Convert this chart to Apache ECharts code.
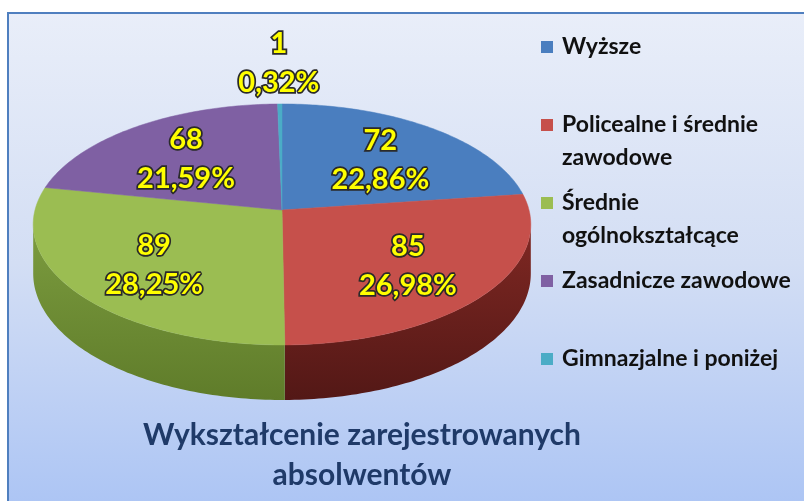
<!DOCTYPE html>
<html>
<head>
<meta charset="utf-8">
<script src="https://cdn.jsdelivr.net/npm/echarts@6/dist/echarts.min.js"></script>
<style>
  html, body { margin: 0; padding: 0; background: #fff; }
  #chart { width: 804px; height: 501px; }
</style>
</head>
<body>
<div id="chart"></div>
<script>
// data
const categories = ['Wyższe', 'Policealne i średnie\nzawodowe', 'Średnie\nogólnokształcące', 'Zasadnicze zawodowe', 'Gimnazjalne i poniżej'];
const counts = [72, 85, 89, 68, 1];
const topColors = ['#4a7ebf', '#c6504b', '#9bbd52', '#7f60a3', '#4bacc6'];
const sideColors = [['#2f5687', '#23426a'], ['#802823', '#531816'], ['#7c9c3f', '#5f7c2a'], ['#5a4278', '#443060'], ['#2f8197', '#226577']];

const total = counts.reduce((s, v) => s + v, 0);
const before = counts.map((v, i) => counts.slice(0, i).reduce((s, x) => s + x, 0));

// tilted disc, seen a little in perspective
const cx = 282, cy = 210, ax = 247, by = 118.75, persp = 0.12, depth = 48.4;
function project(theta, r, drop) {
  const u = r * Math.sin(theta), v = -r * Math.cos(theta);
  const w = 1 - persp * v;
  return [cx + ax * u / w, cy + by * v / w + (drop ? depth / w : 0)];
}
function arc(a1, a2, r, drop) {
  const n = Math.max(2, Math.ceil(Math.abs(a2 - a1) / (Math.PI / 180)));
  const pts = [];
  for (let k = 0; k <= n; k++) pts.push(project(a1 + (a2 - a1) * k / n, r, drop));
  return pts;
}

function sliceRenderer(i) {
  return function (params, api) {
    const value = api.value(0);
    const a1 = before[i] / total * 2 * Math.PI;
    const a2 = (before[i] + value) / total * 2 * Math.PI;
    const children = [];
    const sideMin = Math.PI / 2 + Math.asin(persp), sideMax = 1.5 * Math.PI - Math.asin(persp);
    const s1 = Math.max(a1, sideMin), s2 = Math.min(a2, sideMax);
    if (s2 > s1) {
      children.push({
        type: 'polygon', z2: 0,
        shape: { points: arc(s1, s2, 1, false).concat(arc(s2, s1, 1, true)) },
        style: {
          fill: new echarts.graphic.LinearGradient(0, 0, 0, 1, [
            { offset: 0, color: sideColors[i][0] },
            { offset: 1, color: sideColors[i][1] }
          ])
        }
      });
    }
    children.push({
      type: 'polygon', z2: 10,
      shape: { points: [[cx, cy]].concat(arc(a1, a2, 1, false)) },
      style: { fill: topColors[i], stroke: topColors[i], lineWidth: 0.5 }
    });
    const pct = (value / total * 100).toFixed(2).replace('.', ',') + '%';
    const outside = value / total < 0.03;
    const pos = project((a1 + a2) / 2, outside ? 1.5 : 0.64, false);
    children.push({
      type: 'text', z2: 20, x: pos[0], y: pos[1] + 4,
      style: {
        text: value + '\n' + pct,
        fill: '#ffff00',
        font: 'bold 29px Lato',
        lineHeight: 39,
        align: 'center',
        verticalAlign: 'middle',
        stroke: '#2a2a2a',
        lineWidth: 3.5
      }
    });
    return { type: 'group', children: children };
  };
}

const chart = echarts.init(document.getElementById('chart'));

const lineH = 33;
const legendData = categories.map(function (name) {
  const twoLines = name.indexOf('\n') >= 0;
  return { name: name, textStyle: { padding: twoLines ? [lineH, 0, 0, 4] : [lineH, 0, lineH, 4] } };
});

const option = {
  backgroundColor: '#ffffff',
  animation: false,
  graphic: [{
    type: 'rect', z: -10,
    shape: { x: 8, y: 13, width: 806, height: 500 },
    style: {
      fill: new echarts.graphic.LinearGradient(0, 0, 0, 1, [
        { offset: 0, color: '#e9eef9' },
        { offset: 0.5, color: '#d3def4' },
        { offset: 1, color: '#abc4f4' }
      ]),
      stroke: '#4f7fbf',
      lineWidth: 2
    }
  }],
  title: {
    text: 'Wykształcenie zarejestrowanych\nabsolwentów',
    left: 357,
    top: 410,
    textAlign: 'center',
    textVerticalAlign: 'top',
    textStyle: { fontFamily: 'Lato', fontWeight: 'bold', fontSize: 30, lineHeight: 40, color: '#1f3a68' }
  },
  legend: {
    orient: 'vertical',
    left: 541,
    top: -2.5,
    padding: 0,
    icon: 'rect',
    itemWidth: 12,
    itemHeight: 12,
    itemGap: -21,
    selectedMode: false,
    formatter: function (name) {
      return name.split('\n').map(function (s) { return '{t|' + s + '}'; }).join('\n');
    },
    textStyle: {
      fontFamily: 'Lato', fontWeight: 'bold', fontSize: 23, lineHeight: lineH, color: '#111111',
      rich: { t: { fontFamily: 'Lato', fontWeight: 'bold', fontSize: 23, lineHeight: lineH, color: '#111111' } }
    },
    data: legendData
  },
  series: categories.map(function (name, i) {
    return {
      type: 'custom',
      name: name,
      coordinateSystem: 'none',
      itemStyle: { color: topColors[i] },
      renderItem: sliceRenderer(i),
      data: [[counts[i]]]
    };
  })
};

chart.setOption(option);
</script>
</body>
</html>
